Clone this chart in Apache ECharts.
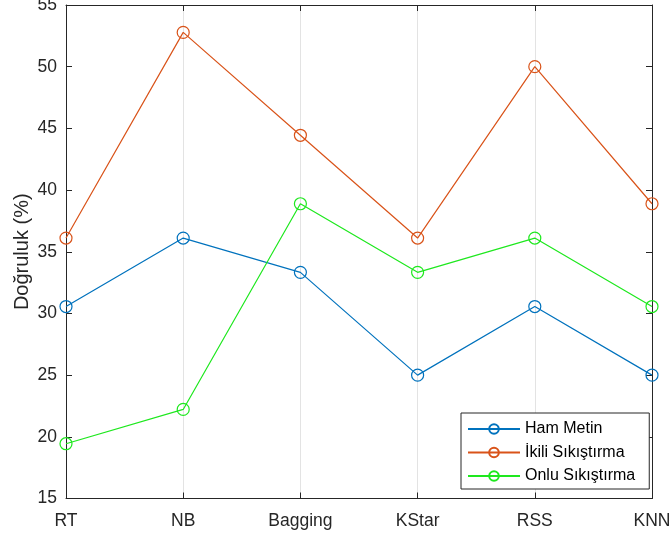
<!DOCTYPE html>
<html><head><meta charset="utf-8">
<script src="https://cdn.jsdelivr.net/npm/echarts@6/dist/echarts.min.js"></script>
<style>html,body{margin:0;padding:0;background:#fff}#c{width:672px;height:538px}</style>
</head><body><div id="c"></div>
<script>
var categories = ['RT','NB','Bagging','KStar','RSS','KNN'];
var hamMetin = [30.56, 36.11, 33.33, 25.00, 30.56, 25.00];
var ikili = [36.11, 52.78, 44.44, 36.11, 50.00, 38.89];
var onlu = [19.44, 22.22, 38.89, 33.33, 36.11, 30.56];
var yTicks = [15,20,25,30,35,40,45,50,55];

var chart = echarts.init(document.getElementById('c'), null, {renderer:'canvas'});
var font = 'Liberation Sans, Arial, Helvetica, sans-serif';
var axisCol = '#262626';
function mk(name, data, color){
  return {name:name, type:'line', data:data, symbol:'circle', symbolSize:12,
    lineStyle:{color:color, width:1.2},
    itemStyle:{color:'rgba(0,0,0,0)', borderColor:color, borderWidth:1.2},
    xAxisIndex:0, yAxisIndex:0, animation:false, z:3};
}
chart.setOption({
  animation:false,
  grid:{left:66, right:20, top:5, bottom:39.5, containLabel:false, outerBoundsMode:'none'},
  legend:{
    orient:'vertical', left:461, top:413,
    backgroundColor:'#fff', borderColor:axisCol, borderWidth:1,
    padding:[8,14,5,6], itemWidth:52, itemHeight:12, itemGap:7.5,
    textStyle:{fontFamily:font, fontSize:16, color:'#000'},
    data:['Ham Metin','İkili Sıkıştırma','Onlu Sıkıştırma']
  },
  xAxis:[{
    type:'category', data:categories, boundaryGap:false,
    axisLine:{lineStyle:{color:axisCol, width:1}},
    axisTick:{inside:true, length:6, lineStyle:{color:axisCol}},
    axisLabel:{fontFamily:font, fontSize:17.5, color:axisCol, margin:14},
    splitLine:{show:true, lineStyle:{color:'#e3e3e3', width:1}}
  },{
    type:'category', data:categories, boundaryGap:false, position:'top',
    axisLine:{lineStyle:{color:axisCol, width:1}},
    axisTick:{inside:true, length:6, lineStyle:{color:axisCol}},
    axisLabel:{show:false}, splitLine:{show:false}
  }],
  yAxis:[{
    type:'value', min:15, max:55, interval:5,
    name:'Doğruluk (%)', nameLocation:'middle', nameGap:34, nameMoveOverlap:false,
    nameTextStyle:{fontFamily:font, fontSize:20, color:axisCol},
    axisLine:{show:true, lineStyle:{color:axisCol, width:1}},
    axisTick:{show:true, inside:true, length:6, lineStyle:{color:axisCol}},
    axisLabel:{fontFamily:font, fontSize:17.5, color:axisCol, margin:9,
      formatter:function(v){return yTicks.indexOf(v)>=0? String(v):'';}},
    splitLine:{show:false}
  },{
    type:'value', min:15, max:55, interval:5, position:'right',
    axisLine:{show:true, lineStyle:{color:axisCol, width:1}},
    axisTick:{show:true, inside:true, length:6, lineStyle:{color:axisCol}},
    axisLabel:{show:false}, splitLine:{show:false}
  }],
  series:[
    mk('Ham Metin', hamMetin, '#0072BD'),
    mk('İkili Sıkıştırma', ikili, '#D95319'),
    mk('Onlu Sıkıştırma', onlu, '#1ee81e')
  ]
});
</script></body></html>
